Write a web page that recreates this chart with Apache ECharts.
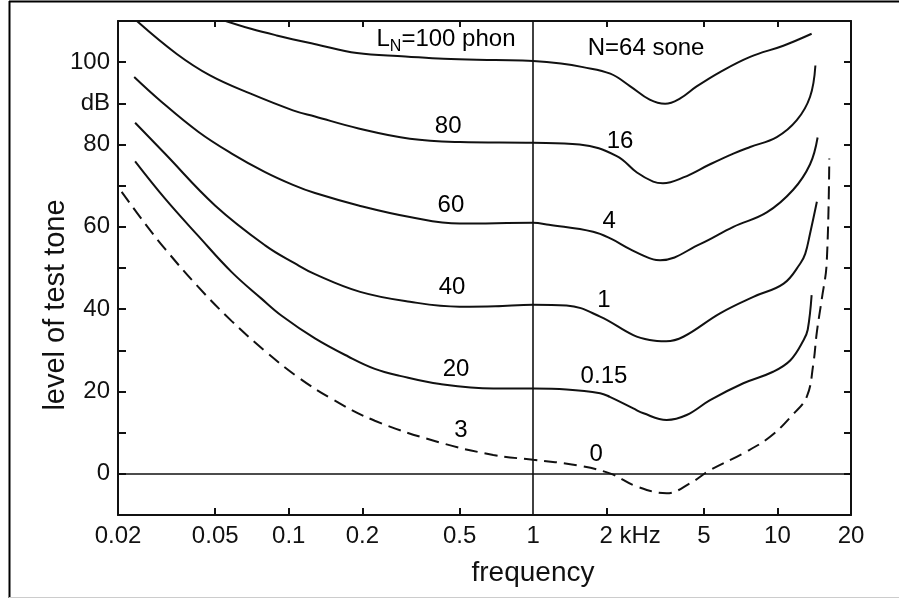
<!DOCTYPE html>
<html>
<head>
<meta charset="utf-8">
<script src="https://cdn.jsdelivr.net/npm/echarts@6/dist/echarts.min.js"></script>
<style>html,body{margin:0;padding:0;background:#fff}#c{width:899px;height:600px}</style>
</head>
<body>
<div id="c"></div>
<script>
// ---- axis ticks / labels ----
const xTickValues = [0.02, 0.05, 0.1, 0.2, 0.5, 1, 2, 5, 10, 20];
const xTickLabels = ['0.02', '0.05', '0.1', '0.2', '0.5', '1', '2 kHz', '5', '10', '20'];
const xMinorTicks = [0.05, 0.1, 0.2, 0.5, 2, 5, 10];
const yTickValues = [0, 20, 40, 60, 80, 90, 100];
const yTickLabels = ['0', '20', '40', '60', '80', 'dB', '100'];

// ---- equal-loudness contours (frequency in kHz, level in dB) ----
const phon100Freq = [0.0532, 0.07, 0.0892, 0.13, 0.19, 0.3, 0.43, 0.7, 1, 1.3, 1.6, 2.07, 2.49, 3.0, 3.47, 4.0, 4.67, 5.82, 7.73, 10.57, 13.8];
const phon100Level = [110.3, 108.1, 106.5, 104.3, 102.2, 101.4, 100.8, 100.5, 100.3, 99.7, 98.8, 97.2, 94.2, 90.9, 89.9, 91.2, 94.1, 97.6, 101.3, 104, 106.9];

const phon80Freq = [0.0239, 0.0348, 0.0476, 0.0694, 0.104, 0.128, 0.193, 0.313, 0.502, 1, 1.55, 2.2, 2.66, 3.1, 3.4, 4.12, 5.3, 6.6, 7.73, 9.94, 12.0, 13.6, 14.3];
const phon80Level = [110, 102, 96.8, 92.4, 88.3, 86.8, 83.9, 81.4, 80.6, 80.4, 80.0, 77.2, 73.2, 71.0, 70.6, 72.0, 75.2, 77.8, 79.4, 81.8, 85.9, 91.6, 99.2];

const phon60Freq = [0.0233, 0.0297, 0.0426, 0.0584, 0.08, 0.104, 0.128, 0.193, 0.313, 0.5, 1, 1.16, 1.76, 2.1, 2.49, 3.1, 3.31, 4.82, 6.6, 9.04, 11.6, 13.6, 14.6];
const phon60Level = [96.4, 90.7, 83.1, 77.8, 73.3, 70.2, 68.2, 65.2, 62.4, 60.8, 61, 60.5, 58.8, 57.0, 54.6, 52.1, 51.9, 55.8, 60, 63.5, 69, 75.2, 81.7];

const phon40Freq = [0.0235, 0.0311, 0.0499, 0.08, 0.106, 0.128, 0.196, 0.313, 0.5, 0.7, 1, 1.37, 1.88, 2.57, 3.0, 3.5, 4.12, 5.82, 7.97, 10.6, 12.4, 13.0, 13.6, 14.5];
const phon40Level = [85.3, 77.8, 65.2, 55.5, 51.1, 48.5, 44.2, 41.8, 40.6, 40.7, 41.1, 40.9, 38.2, 33.7, 32.5, 32.2, 33.3, 39, 43, 46.2, 51.1, 53.5, 58.4, 66.1];

const phon20Freq = [0.0235, 0.0311, 0.0426, 0.0584, 0.0775, 0.0935, 0.128, 0.175, 0.225, 0.285, 0.416, 0.687, 1, 1.37, 1.88, 2.06, 2.57, 2.83, 3.52, 4.25, 5.3, 7.25, 9.6, 11.3, 12.8, 13.3, 13.8];
const phon20Level = [75.9, 66.9, 57.8, 49.0, 42.5, 38.4, 32.9, 28.5, 25.5, 23.8, 21.8, 20.7, 20.7, 20.5, 19.6, 18.7, 15.9, 14.7, 13.1, 14.3, 17.9, 22, 24.8, 27.6, 32.5, 35, 43.4];

// threshold in quiet (dashed)
const thresholdFreq = [0.0207, 0.0258, 0.0311, 0.0426, 0.0584, 0.08, 0.109, 0.15, 0.225, 0.416, 0.687, 1, 1.51, 2.06, 2.66, 3.52, 4.39, 5.3, 7.25, 9.33, 11.6, 13.2, 14.0, 14.5, 15.2, 15.9, 16.3];
const thresholdLevel = [68.5, 60.8, 54.7, 45.4, 37.1, 29.8, 23.5, 18.2, 12.9, 7.6, 4.6, 3.4, 2.1, 0.1, -3.1, -4.7, -2.3, 0.9, 5, 9, 14.5, 18.8, 26.4, 34.5, 42.6, 51.1, 76.6];

// ---- curve annotations ----
const annoTexts = ['LN', 'N=64 sone', '80', '60', '40', '20', '3', '16', '4', '1', '0.15', '0'];
const annoFreq = [0.44, 2.9, 0.449, 0.461, 0.466, 0.484, 0.507, 2.27, 2.05, 1.95, 1.95, 1.81];
const annoLevel = [105.5, 103.3, 84.3, 65.2, 45.3, 25.4, 10.6, 80.7, 61.3, 42.1, 23.7, 4.7];

const FONT = 'Liberation Sans, Arial, sans-serif';
const INK = '#111';

function zip(a, b) { return a.map((v, i) => [v, b[i]]); }
function idxOf(arr, v, isLog) {
  return arr.findIndex(t => isLog ? Math.abs(Math.log10(t) - Math.log10(v)) < 1e-6 : Math.abs(t - v) < 1e-6);
}

function curve(name, f, l, dashed) {
  return {
    name: name, type: 'line', data: zip(f, l), showSymbol: false, symbol: 'none',
    smooth: 0.4,
    lineStyle: dashed ? { color: INK, width: 2, type: [13, 7] } : { color: INK, width: 2 },
    silent: true, z: 3
  };
}

const chart = echarts.init(document.getElementById('c'), null, { renderer: 'canvas' });

const series = [
  curve('100 phon', phon100Freq, phon100Level),
  curve('80 phon', phon80Freq, phon80Level),
  curve('60 phon', phon60Freq, phon60Level),
  curve('40 phon', phon40Freq, phon40Level),
  curve('20 phon', phon20Freq, phon20Level),
  curve('threshold', thresholdFreq, thresholdLevel, true)
];
series[4].markLine = {
  silent: true, symbol: 'none', label: { show: false },
  lineStyle: { color: INK, width: 1.6, type: 'solid' },
  data: [{ yAxis: 0 }, { xAxis: 1 }]
};
series.push({
  type: 'scatter', symbolSize: 0, silent: true, z: 5,
  itemStyle: { opacity: 1 },
  data: annoTexts.map((t, i) => ({ name: t, value: [annoFreq[i], annoLevel[i]] })),
  label: {
    show: true, position: 'inside', color: '#000', opacity: 1, textBorderWidth: 0,
    fontFamily: FONT, fontSize: 24,
    formatter: p => p.name === 'LN' ? '{t|L}{s|N}{t|=100 phon}' : p.name,
    rich: {
      t: { fontSize: 24, lineHeight: 30, color: '#000', fontFamily: FONT },
      s: { fontSize: 16, lineHeight: 30, verticalAlign: 'bottom', color: '#000', fontFamily: FONT }
    }
  }
});

const xBase = {
  type: 'log', logBase: 10, min: 0.02, max: 20, gridIndex: 0,
  splitLine: { show: false },
  axisLine: { show: true, onZero: false, lineStyle: { color: INK, width: 2 } },
  minorTick: { show: false }
};

const option = {
  animation: false,
  backgroundColor: '#fff',
  textStyle: { fontFamily: FONT },
  grid: { left: 118, right: 48, top: 21, bottom: 85, containLabel: false, outerBoundsMode: 'none' },
  xAxis: [
    Object.assign({}, xBase, {
      position: 'bottom',
      axisTick: { show: true, inside: true, length: 7, customValues: xMinorTicks, lineStyle: { color: INK, width: 2 } },
      axisLabel: {
        show: true, customValues: xTickValues, margin: 9, color: INK, fontSize: 24, fontFamily: FONT,
        formatter: v => {
          const i = idxOf(xTickValues, v, true);
          if (i < 0) return '';
          return xTickLabels[i] === '2 kHz' ? '{k|2 kHz}' : xTickLabels[i];
        },
        rich: { k: { fontSize: 24, color: INK, fontFamily: FONT, padding: [0, 0, 0, 47] } }
      }
    }),
    Object.assign({}, xBase, {
      position: 'top',
      axisTick: { show: true, inside: true, length: 6, customValues: xMinorTicks, lineStyle: { color: INK, width: 2 } },
      axisLabel: { show: false }
    })
  ],
  yAxis: [
    {
      type: 'value', min: -10, max: 110, interval: 10, position: 'left',
      splitLine: { show: false },
      axisLine: { show: true, onZero: false, lineStyle: { color: INK, width: 2 } },
      axisTick: { show: true, inside: true, length: 8, lineStyle: { color: INK, width: 2 } },
      axisLabel: {
        show: true, customValues: yTickValues, margin: 8, color: INK, fontSize: 24, fontFamily: FONT,
        formatter: v => { const i = idxOf(yTickValues, v, false); return i < 0 ? '' : yTickLabels[i]; }
      }
    },
    {
      type: 'value', min: -10, max: 110, interval: 10, position: 'right',
      splitLine: { show: false },
      axisLine: { show: true, onZero: false, lineStyle: { color: INK, width: 2 } },
      axisTick: { show: true, inside: true, length: 7, lineStyle: { color: INK, width: 2 } },
      axisLabel: { show: false }
    }
  ],
  graphic: [
    { type: 'line', shape: { x1: 9, y1: 1.5, x2: 899, y2: 1.5 }, style: { stroke: '#000', lineWidth: 2 }, silent: true },
    { type: 'line', shape: { x1: 9.5, y1: 1, x2: 9.5, y2: 598 }, style: { stroke: '#000', lineWidth: 2 }, silent: true },
    { type: 'line', shape: { x1: 9, y1: 597.5, x2: 899, y2: 597.5 }, style: { stroke: '#ccc', lineWidth: 1 }, silent: true },
    { type: 'text', x: 533, y: 573, silent: true,
      style: { text: 'frequency', fill: INK, font: '28px ' + FONT, align: 'center', verticalAlign: 'middle' } },
    { type: 'text', x: 56, y: 305, rotation: Math.PI / 2, silent: true,
      style: { text: 'level of test tone', fill: INK, font: '29px ' + FONT, align: 'center', verticalAlign: 'middle' } }
  ],
  series: series
};
chart.setOption(option);
</script>
</body>
</html>
